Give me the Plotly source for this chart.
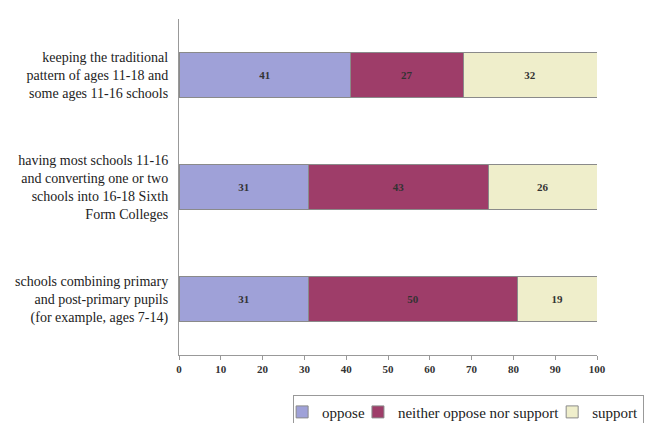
import plotly.graph_objects as go

categories = [
    "keeping the traditional<br>pattern of ages 11-18 and<br>some ages 11-16 schools",
    "having most schools 11-16<br>and converting one or two<br>schools into 16-18 Sixth<br>Form Colleges",
    "schools combining primary<br>and post-primary pupils<br>(for example, ages 7-14)",
]
oppose = [41, 31, 31]
neither = [27, 43, 50]
support = [32, 26, 19]
x_ticks = [0, 10, 20, 30, 40, 50, 60, 70, 80, 90, 100]

SERIF = "Liberation Serif"

series = [
    ("oppose", oppose, "#9fa1d8"),
    ("neither oppose nor support", neither, "#9e3d69"),
    ("support", support, "#efeecb"),
]

fig = go.Figure()
for name, vals, col in series:
    fig.add_trace(go.Bar(
        y=categories, x=vals, name=name, orientation="h",
        marker=dict(color=col, line=dict(color="#8a8a8a", width=1)),
        text=[str(v) for v in vals], textposition="inside",
        insidetextanchor="middle",
        textfont=dict(family=SERIF, size=11, color="#333333"),
        texttemplate="<b>%{text}</b>",
        hoverinfo="skip",
    ))

fig.update_layout(
    barmode="stack", bargap=0.6,
    width=661, height=423,
    margin=dict(l=179, r=64, t=19, b=68, autoexpand=False),
    paper_bgcolor="white", plot_bgcolor="white",
    font=dict(family=SERIF, size=14, color="#222222"),
    legend=dict(orientation="h", traceorder="normal", x=0.273, xanchor="left",
                y=-0.118, yanchor="top",
                bordercolor="#999999", borderwidth=1,
                font=dict(family=SERIF, size=15, color="#222222"),
                itemwidth=30, indentation=-12, tracegroupgap=0),
    showlegend=True,
)
fig.update_yaxes(autorange="reversed", showline=True, linecolor="#999999", linewidth=1,
                 ticks="", showgrid=False, ticklabelstandoff=7, automargin=False,
                 tickfont=dict(family=SERIF, size=14, color="#222222"))
fig.update_xaxes(range=[0, 100], tickvals=x_ticks, showline=True, linecolor="#999999",
                 linewidth=1, ticks="outside", ticklen=4, tickcolor="#999999",
                 showgrid=False, zeroline=False, automargin=False,
                 ticktext=[f"<b>{t}</b>" for t in x_ticks],
                 tickfont=dict(family=SERIF, size=11, color="#333333"))

fig.write_html("out.html", config={"displayModeBar": False},
               post_script="document.body.style.margin='0';")
